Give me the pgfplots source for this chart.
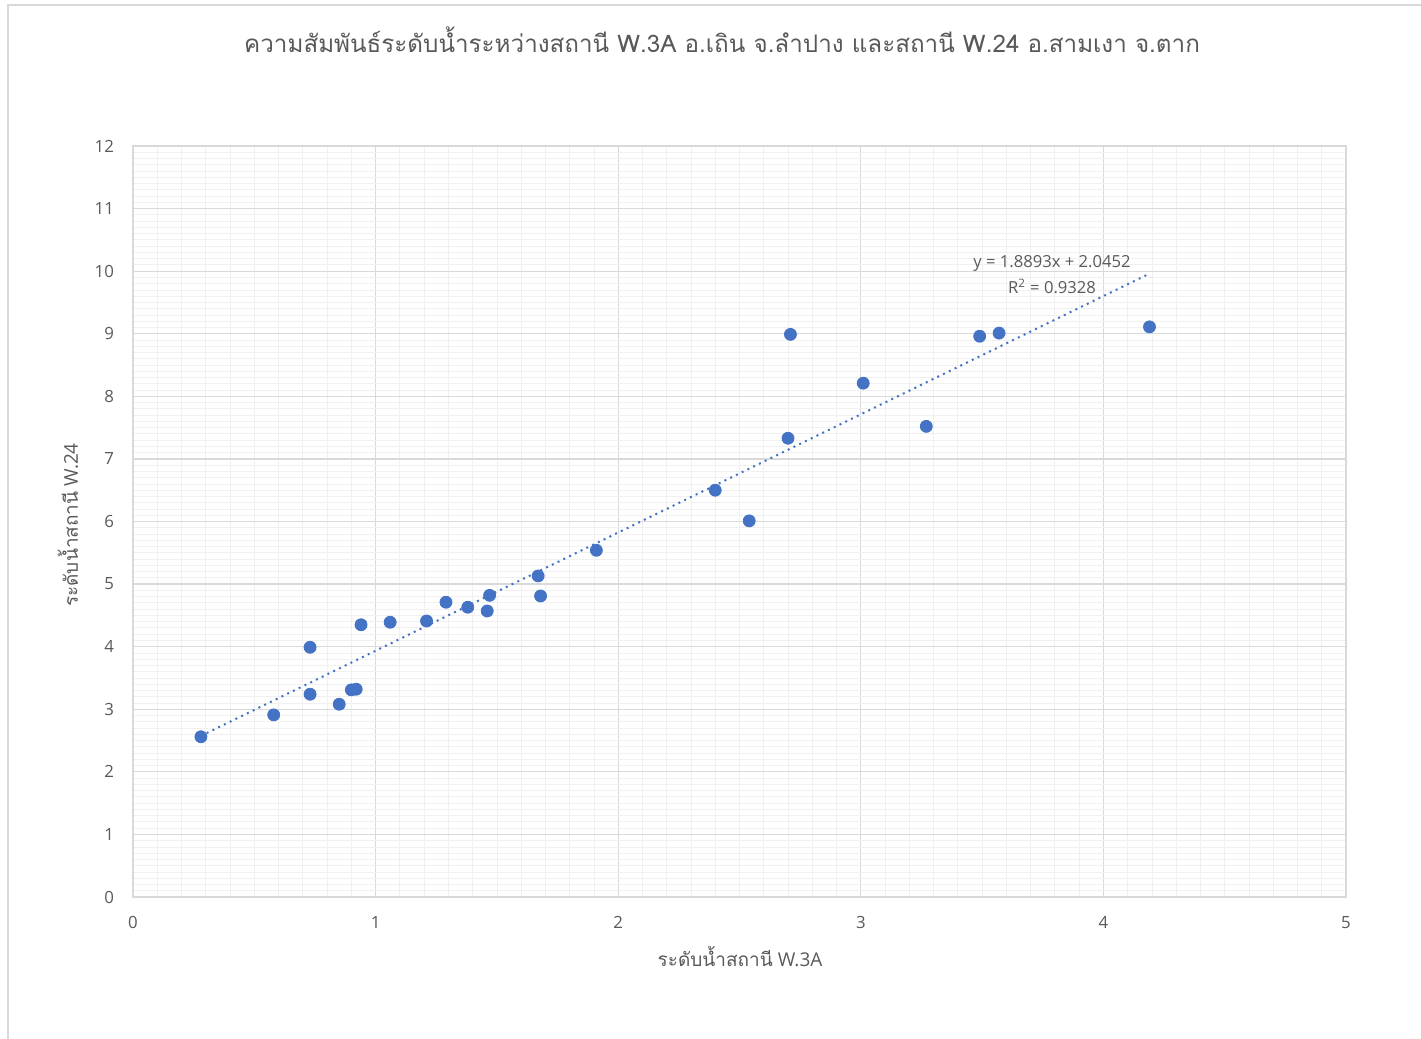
\documentclass[border=0pt]{standalone}
\usepackage{fontspec}
\setmainfont{Open Sans}
\newfontfamily\thaifont[Script=Thai]{Loma}
\usepackage{pgfplots}
\pgfplotsset{compat=1.18}
\definecolor{txt}{HTML}{595959}
\definecolor{mk}{HTML}{4472C4}
\definecolor{majg}{HTML}{D9D9D9}
\definecolor{ming}{HTML}{F0F0F0}
\begin{document}
\begin{tikzpicture}[x=1pt,y=1pt]
\useasboundingbox (0,0) rectangle (710.5,519.5);
\draw[majg, line width=0.8pt] (4,0) -- (4,517) -- (710.5,517);
\begin{axis}[
  at={(66.5pt,71pt)}, anchor=south west,
  scale only axis, width=606.5pt, height=375.5pt,
  xmin=0, xmax=5, ymin=0, ymax=12,
  xtick={0,1,2,3,4,5}, ytick={0,1,...,12},
  minor x tick num=9, minor y tick num=9,
  grid=both,
  major grid style={majg, line width=0.6pt},
  minor grid style={ming, line width=0.4pt},
  axis line style={majg, line width=0.6pt},
  tick style={draw=none},
  ticklabel style={font=\fontsize{8.4}{10}\selectfont, text=txt},
  /pgf/number format/assume math mode=true,
  xticklabel style={yshift=-6pt},
  yticklabel style={xshift=-6pt},
  clip=false,
]
\addplot[only marks, mark=*, mark size=3pt, mark options={fill=mk, draw=mk}] coordinates {
(0.28,2.56) (0.58,2.91) (0.73,3.24) (0.73,3.99) (0.85,3.08) (0.90,3.31) (0.92,3.32)
(0.94,4.35) (1.06,4.39) (1.21,4.41) (1.29,4.71) (1.38,4.63) (1.46,4.57) (1.47,4.82)
(1.67,5.13) (1.68,4.81) (1.91,5.54) (2.40,6.50) (2.54,6.01) (2.70,7.33) (2.71,8.99)
(3.01,8.21) (3.27,7.52) (3.49,8.96) (3.57,9.01) (4.19,9.11)
};
\addplot[mk, line width=1pt, dash pattern=on 1pt off 2.2pt] coordinates {(0.28,2.574) (4.19,9.961)};
\node[text=txt, font=\fontsize{8.3}{10}\selectfont] at (axis cs:3.788,10.13) {y = 1.8893x + 2.0452};
\node[text=txt, font=\fontsize{8.3}{10}\selectfont] at (axis cs:3.788,9.76) {R\textsuperscript{2} = 0.9328};
\end{axis}
\node[text=txt, font=\fontsize{12.1}{14}\selectfont] at (361,499.5) {\thaifont ความสัมพันธ์ระดับน้ำระหว่างสถานี W.3A อ.เถิน จ.ลำปาง และสถานี W.24 อ.สามเงา จ.ตาก};
\node[text=txt, font=\fontsize{9.5}{11}\selectfont] at (370,41) {{\thaifont ระดับน้ำสถานี} W.3A};
\node[text=txt, font=\fontsize{9.5}{11}\selectfont, rotate=90] at (34,257) {{\thaifont ระดับน้ำสถานี} W.24};
\end{tikzpicture}
\end{document}
